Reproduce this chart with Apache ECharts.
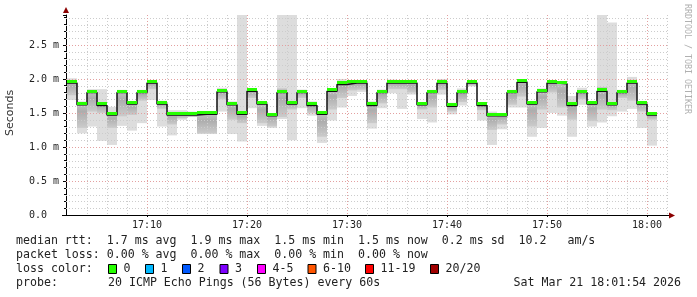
<!DOCTYPE html>
<html><head><meta charset="utf-8">
<script src="https://cdn.jsdelivr.net/npm/echarts@6/dist/echarts.min.js"></script>
<style>html,body{margin:0;padding:0;background:#fff}#c{width:697px;height:297px}</style>
</head><body><div id="c"></div>
<script>
// ---- data ----
const times = ['17:02','17:03','17:04','17:05','17:06','17:07','17:08','17:09','17:10','17:11',
  '17:12','17:13','17:14','17:15','17:16','17:17','17:18','17:19','17:20','17:21',
  '17:22','17:23','17:24','17:25','17:26','17:27','17:28','17:29','17:30','17:31',
  '17:32','17:33','17:34','17:35','17:36','17:37','17:38','17:39','17:40','17:41',
  '17:42','17:43','17:44','17:45','17:46','17:47','17:48','17:49','17:50','17:51',
  '17:52','17:53','17:54','17:55','17:56','17:57','17:58','17:59','18:00'];
// median rtt (ms)
const median = [1.94,1.62,1.80,1.61,1.47,1.80,1.63,1.80,1.94,1.63,
  1.47,1.47,1.47,1.48,1.48,1.81,1.62,1.48,1.82,1.63,
  1.46,1.80,1.63,1.80,1.61,1.48,1.82,1.92,1.94,1.94,
  1.61,1.80,1.94,1.94,1.94,1.62,1.80,1.94,1.60,1.80,
  1.94,1.61,1.46,1.46,1.80,1.95,1.63,1.81,1.94,1.93,
  1.61,1.80,1.63,1.82,1.62,1.80,1.94,1.63,1.47];
// smoke: slowest ping (ms)
const smokeMax = [2.01,1.67,1.85,1.85,1.59,1.84,1.66,1.84,1.98,1.68,
  1.54,1.54,1.52,1.50,1.50,1.87,1.67,2.94,1.86,1.67,
  1.50,2.94,2.94,1.84,1.67,1.52,1.86,2.00,1.98,1.97,
  1.67,1.84,1.99,1.97,1.97,1.66,1.84,2.00,1.65,1.86,
  1.96,1.65,1.52,1.50,1.84,2.00,1.67,1.86,1.97,1.96,
  1.75,1.87,1.67,2.94,2.83,1.84,2.03,1.67,1.51];
// smoke: fastest ping (ms)
const smokeMin = [1.69,1.20,1.30,1.09,1.03,1.31,1.24,1.35,1.69,1.30,
  1.17,1.40,1.45,1.19,1.19,1.52,1.19,1.08,1.57,1.31,
  1.28,1.41,1.10,1.57,1.46,1.06,1.39,1.58,1.75,1.81,
  1.27,1.57,1.79,1.56,1.77,1.41,1.36,1.77,1.48,1.61,
  1.89,1.39,1.03,1.26,1.58,1.58,1.15,1.28,1.50,1.46,
  1.15,1.62,1.30,1.36,1.45,1.52,1.56,1.28,1.02];
// smoke: dense core band (ms)
const bandHi = [1.97,1.65,1.82,1.64,1.50,1.82,1.65,1.82,1.97,1.66,
  1.50,1.50,1.49,1.49,1.49,1.85,1.65,1.50,1.85,1.65,
  1.49,1.86,1.66,1.84,1.64,1.50,1.85,1.97,1.97,1.96,
  1.64,1.84,1.97,1.96,1.96,1.64,1.83,1.97,1.63,1.83,
  1.96,1.64,1.49,1.49,1.83,1.98,1.66,1.83,1.97,1.95,
  1.66,1.83,1.66,1.88,1.66,1.82,1.98,1.66,1.49];
const bandLo = [1.76,1.28,1.52,1.50,1.28,1.45,1.47,1.68,1.85,1.56,
  1.33,1.42,1.44,1.20,1.20,1.70,1.40,1.35,1.72,1.35,
  1.30,1.44,1.55,1.72,1.50,1.15,1.55,1.72,1.83,1.84,
  1.35,1.64,1.85,1.85,1.80,1.55,1.58,1.84,1.52,1.66,
  1.90,1.54,1.25,1.33,1.62,1.74,1.30,1.55,1.80,1.58,
  1.40,1.70,1.38,1.55,1.54,1.72,1.68,1.52,1.40];
// axis ticks
const yTickValues = [0, 0.5, 1.0, 1.5, 2.0, 2.5];
const yTickLabels = ['0.0  ', '0.5 m', '1.0 m', '1.5 m', '2.0 m', '2.5 m'];
const xTickLabels = ['17:10', '17:20', '17:30', '17:40', '17:50', '18:00'];
// legend texts
const statLines = [
  'median rtt:  1.7 ms avg  1.9 ms max  1.5 ms min  1.5 ms now  0.2 ms sd  10.2   am/s',
  'packet loss: 0.00 % avg  0.00 % max  0.00 % min  0.00 % now'
];
const lossTitle = 'loss color:';
const lossLabels = ['0', '1', '2', '3', '4-5', '6-10', '11-19', '20/20'];
const lossColors = ['#26ff00', '#00b8ff', '#0059ff', '#7e00ff', '#ff00ff', '#ff5500', '#ff0000', '#a00000'];
const probeTitle = 'probe:';
const probeText = '20 ICMP Echo Pings (56 Bytes) every 60s';
const stampText = 'Sat Mar 21 18:01:54 2026';
const yTitle = 'Seconds';
const sideText = 'RRDTOOL / TOBI OETIKER';

// ---- layout / style ----
const X_MIN = 1.9, X_MAX = 62.2, Y_MAX = 2.94;
const MONO = '"DejaVu Sans Mono", monospace';
const lossItemX = [108, 145, 182, 219.5, 257, 307.5, 365, 430];

function toMin(s) { const p = s.split(':'); return (+p[0] - 17) * 60 + (+p[1]); }
const xTickValues = xTickLabels.map(toMin);

// grid line positions (axis structure)
const xMinorGrid = [], yMinorGrid = [], yMajorGrid = [];
for (let m = 4; m < X_MAX; m += 2) if (m % 10 !== 0) xMinorGrid.push(m);
for (let k = 1; k <= 29; k++) { const v = k / 10; if (k % 5 === 0) yMajorGrid.push(v); else yMinorGrid.push(v); }

const smokeData = times.map((t, i) => [toMin(t), smokeMin[i], smokeMax[i], bandLo[i], bandHi[i], median[i]]);
const lineData = times.map((t, i) => [toMin(t), median[i]]);
lineData.push([toMin(times[times.length - 1]) + 1, median[median.length - 1]]);

const chart = echarts.init(document.getElementById('c'), null, { renderer: 'canvas' });

function px(v) { return Math.round(v) + 0.5; }

function renderSmoke(params, api) {
  const t = api.value(0);
  const lo = api.coord([t, api.value(1)]);
  const hi = api.coord([t + 1, api.value(2)]);
  const bl = api.coord([t, api.value(3)]);
  const bh = api.coord([t + 1, api.value(4)]);
  const x0 = Math.round(lo[0]), x1 = Math.round(hi[0]);
  return { type: 'group', children: [
    { type: 'rect', shape: { x: x0, y: hi[1], width: x1 - x0, height: lo[1] - hi[1] }, style: { fill: '#dddddd' } },
    { type: 'rect', shape: { x: x0, y: bh[1], width: x1 - x0, height: bl[1] - bh[1] },
      style: { fill: new echarts.graphic.LinearGradient(0, 0, 0, 1, [
        { offset: 0, color: '#c2c2c2' }, { offset: 0.35, color: '#adadad' }, { offset: 1, color: '#cbcbcb' }]) } }
  ] };
}

function renderMedian(params, api) {
  const t = api.value(0);
  const a = api.coord([t, api.value(5)]);
  const b = api.coord([t + 1, api.value(5)]);
  const x0 = Math.round(a[0]), x1 = Math.round(b[0]);
  return { type: 'rect', shape: { x: x0, y: Math.round(a[1]) - 3, width: x1 - x0, height: 3 }, style: { fill: '#26ff00' } };
}

function renderGrid(params, api) {
  const cs = params.coordSys;
  const top = cs.y, bottom = cs.y + cs.height, left = cs.x, right = cs.x + cs.width;
  const ch = [];
  const minorStyle = { stroke: '#cccccc', lineWidth: 1, lineDash: [1, 2] };
  const majorStyle = { stroke: '#e3a0a0', lineWidth: 1, lineDash: [1, 2] };
  xMinorGrid.forEach(v => { const x = px(api.coord([v, 0])[0]); ch.push({ type: 'line', shape: { x1: x, y1: top, x2: x, y2: bottom }, style: minorStyle }); });
  yMinorGrid.forEach(v => { const y = px(api.coord([X_MIN, v])[1]); ch.push({ type: 'line', shape: { x1: left, y1: y, x2: right, y2: y }, style: minorStyle }); });
  xTickValues.forEach(v => { const x = px(api.coord([v, 0])[0]); ch.push({ type: 'line', shape: { x1: x, y1: top, x2: x, y2: bottom }, style: majorStyle }); });
  yMajorGrid.forEach(v => { const y = px(api.coord([X_MIN, v])[1]); ch.push({ type: 'line', shape: { x1: left, y1: y, x2: right, y2: y }, style: majorStyle }); });
  return { type: 'group', children: ch };
}

const graphics = [
  { type: 'text', x: 10, y: 113, rotation: Math.PI / 2,
    style: { text: yTitle, font: '11px "DejaVu Sans", sans-serif', fill: '#333', align: 'center', verticalAlign: 'middle' } },
  { type: 'text', x: 687, y: 4, rotation: -Math.PI / 2,
    style: { text: sideText, font: '8.3px ' + MONO, fill: '#b0b0b0', align: 'left', verticalAlign: 'middle' } },
  { type: 'polygon', shape: { points: [[66, 7], [63, 13], [69, 13]] }, style: { fill: '#8b0000' }, z: 10 },
  { type: 'polygon', shape: { points: [[675, 215.5], [669, 212.5], [669, 218.5]] }, style: { fill: '#8b0000' }, z: 10 },
  { type: 'line', shape: { x1: 62, y1: 215.5, x2: 66, y2: 215.5 }, style: { stroke: '#000', lineWidth: 1 } }
];
statLines.forEach((s, i) => graphics.push({ type: 'text', x: 16, y: 241 + i * 14,
  style: { text: s, font: '11.6px ' + MONO, fill: '#222', verticalAlign: 'middle' } }));
graphics.push({ type: 'text', x: 16, y: 269, style: { text: lossTitle, font: '11.6px ' + MONO, fill: '#222', verticalAlign: 'middle' } });
lossLabels.forEach((l, i) => {
  graphics.push({ type: 'rect', shape: { x: lossItemX[i] + 0.5, y: 264.5, width: 8, height: 9 },
    style: { fill: lossColors[i], stroke: '#000', lineWidth: 1 } });
  graphics.push({ type: 'text', x: lossItemX[i] + 15.5, y: 269,
    style: { text: l, font: '11.6px ' + MONO, fill: '#222', verticalAlign: 'middle' } });
});
graphics.push({ type: 'text', x: 16, y: 283, style: { text: probeTitle, font: '11.6px ' + MONO, fill: '#222', verticalAlign: 'middle' } });
graphics.push({ type: 'text', x: 108, y: 283, style: { text: probeText, font: '11.6px ' + MONO, fill: '#222', verticalAlign: 'middle' } });
graphics.push({ type: 'text', x: 681, y: 283, style: { text: stampText, font: '11.6px ' + MONO, fill: '#222', align: 'right', verticalAlign: 'middle' } });

chart.setOption({
  animation: false,
  backgroundColor: '#ffffff',
  grid: { left: 66, right: 28, top: 15, bottom: 82, containLabel: false },
  xAxis: {
    type: 'value', min: X_MIN, max: X_MAX,
    axisLine: { show: true, onZero: false, lineStyle: { color: '#000', width: 1 } },
    axisTick: { show: true, customValues: xTickValues, length: 2, lineStyle: { color: '#000' } },
    axisLabel: { customValues: xTickValues, margin: 5, color: '#222', fontFamily: MONO, fontSize: 10,
      formatter: v => { const i = xTickValues.indexOf(Math.round(v)); return i >= 0 ? xTickLabels[i] : ''; } },
    splitLine: { show: false }
  },
  yAxis: {
    type: 'value', min: 0, max: Y_MAX, interval: 0.5,
    axisLine: { show: true, lineStyle: { color: '#000', width: 1 } },
    axisTick: { show: true, length: 3, lineStyle: { color: '#000' } },
    minorTick: { show: true, splitNumber: 5, length: 2, lineStyle: { color: '#000' } },
    axisLabel: { margin: 7, color: '#222', fontFamily: MONO, fontSize: 10,
      formatter: v => { const i = yTickValues.findIndex(t => Math.abs(t - v) < 1e-6); return i >= 0 ? yTickLabels[i] : ''; } },
    splitLine: { show: false }
  },
  graphic: graphics,
  series: [
    { type: 'custom', name: 'smoke', renderItem: renderSmoke, data: smokeData, clip: true, z: 1, silent: true },
    { type: 'custom', name: 'grid', renderItem: renderGrid, data: [[X_MIN, 0]], clip: true, z: 2, silent: true },
    { type: 'line', name: 'median', data: lineData, step: 'end', showSymbol: false, symbol: 'none',
      lineStyle: { color: '#111', width: 1.5 }, z: 3, silent: true },
    { type: 'custom', name: 'loss', renderItem: renderMedian, data: smokeData, clip: true, z: 4, silent: true }
  ]
});
</script></body></html>
